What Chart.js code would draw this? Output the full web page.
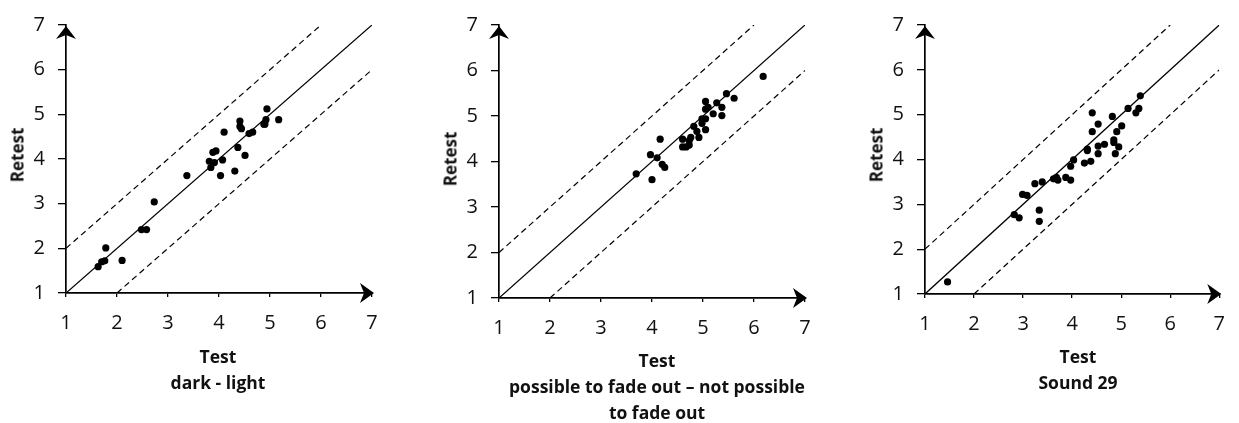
<!DOCTYPE html>
<html>
<head>
<meta charset="utf-8">
<script src="https://cdn.jsdelivr.net/npm/chart.js@4/dist/chart.umd.min.js"></script>
<style>
  body { margin: 0; background: #fff; width: 1239px; height: 423px; overflow: hidden; position: relative; font-family: 'Open Sans', sans-serif; }
  canvas { position: absolute; top: 0; }
  .ylab { position: absolute; font-weight: bold; font-size: 17px; color: #111; transform: translate(-50%, -50%) rotate(-90deg); white-space: nowrap; }
  .xlab { position: absolute; font-weight: bold; font-size: 17.5px; color: #111; text-align: center; line-height: 26px; width: 420px; transform: translateX(-50%); }
</style>
</head>
<body>
<canvas id="c1" width="413" height="423" style="left:0"></canvas>
<canvas id="c2" width="413" height="423" style="left:413px"></canvas>
<canvas id="c3" width="413" height="423" style="left:826px"></canvas>

<div class="ylab" style="left:17px; top:155px">Retest</div>
<div class="ylab" style="left:450px; top:159px">Retest</div>
<div class="ylab" style="left:876px; top:155px">Retest</div>

<div class="xlab" style="left:218px; top:343px">Test<br>dark - light</div>
<div class="xlab" style="left:657px; top:347px">Test<br>possible to fade out – not possible<br>to fade out</div>
<div class="xlab" style="left:1078px; top:343px">Test<br>Sound 29</div>

<script>
/* scale + reference lines */
const AXIS_MIN = 1, AXIS_MAX = 7;
const TICKS = [1, 2, 3, 4, 5, 6, 7];
const LINE_X = [1, 7];          // y = x
const UPPER_X = [1, 6];         // y = x + 1
const LOWER_X = [2, 7];         // y = x - 1

/* panel 1: dark - light */
const test1   = [1.63, 1.70, 1.76, 1.78, 2.10, 2.48, 2.58, 2.73, 3.37, 3.81, 3.84, 3.88, 3.91, 3.94, 4.03, 4.07, 4.10, 4.31, 4.37, 4.41, 4.41, 4.44, 4.51, 4.59, 4.66, 4.88, 4.90, 4.92, 4.94, 5.17];
const retest1 = [1.59, 1.70, 1.72, 2.01, 1.73, 2.42, 2.42, 3.04, 3.63, 3.95, 3.81, 4.15, 3.92, 4.18, 3.63, 3.98, 4.60, 3.73, 4.26, 4.85, 4.73, 4.68, 4.08, 4.57, 4.60, 4.78, 4.78, 4.88, 5.12, 4.88];

/* panel 2: possible to fade out – not possible to fade out */
const test2   = [3.69, 3.97, 4.00, 4.10, 4.16, 4.20, 4.25, 4.60, 4.60, 4.67, 4.73, 4.73, 4.76, 4.82, 4.88, 4.92, 4.98, 4.98, 5.05, 5.05, 5.05, 5.05, 5.10, 5.20, 5.27, 5.37, 5.37, 5.46, 5.61, 6.18];
const retest2 = [3.73, 4.15, 3.60, 4.08, 4.49, 3.94, 3.87, 4.49, 4.32, 4.32, 4.36, 4.46, 4.53, 4.77, 4.66, 4.53, 4.84, 4.94, 4.94, 4.70, 5.32, 5.15, 5.19, 5.05, 5.29, 5.19, 5.01, 5.49, 5.39, 5.87];

/* panel 3: Sound 29 */
const test3   = [1.46, 2.82, 2.92, 2.99, 3.08, 3.24, 3.33, 3.33, 3.39, 3.62, 3.68, 3.71, 3.87, 3.97, 3.97, 4.03, 4.25, 4.31, 4.31, 4.38, 4.41, 4.41, 4.53, 4.53, 4.53, 4.66, 4.82, 4.85, 4.85, 4.88, 4.91, 4.95, 5.01, 5.14, 5.30, 5.36, 5.39];
const retest3 = [1.27, 2.77, 2.70, 3.22, 3.20, 3.46, 2.87, 2.62, 3.50, 3.57, 3.60, 3.54, 3.60, 3.54, 3.85, 3.99, 3.92, 4.20, 4.23, 3.96, 4.62, 5.04, 4.79, 4.30, 4.13, 4.34, 4.96, 4.44, 4.38, 4.13, 4.62, 4.28, 4.75, 5.14, 5.04, 5.14, 5.42];

const TICK_FONT = { family: "'Open Sans', sans-serif", size: 20 };

const zip = (xs, ys) => xs.map((x, i) => ({ x: x, y: ys[i] }));
const shifted = (xs, d) => xs.map(x => ({ x: x, y: x + d }));

// arrowheads at the end of both axes
const arrowPlugin = {
  id: 'arrows',
  afterDraw(chart) {
    const ctx = chart.ctx;
    const xs = chart.scales.x, ys = chart.scales.y;
    const x0 = xs.getPixelForValue(AXIS_MIN), xEnd = xs.getPixelForValue(AXIS_MAX);
    const y0 = ys.getPixelForValue(AXIS_MIN), yEnd = ys.getPixelForValue(AXIS_MAX);
    ctx.save();
    ctx.fillStyle = '#000';
    // right arrow
    ctx.beginPath();
    ctx.moveTo(xEnd + 2, y0);
    ctx.lineTo(xEnd - 12, y0 - 10);
    ctx.lineTo(xEnd - 8, y0);
    ctx.lineTo(xEnd - 12, y0 + 10);
    ctx.closePath();
    ctx.fill();
    // up arrow
    ctx.beginPath();
    ctx.moveTo(x0, yEnd + 1);
    ctx.lineTo(x0 - 10, yEnd + 14);
    ctx.lineTo(x0, yEnd + 10);
    ctx.lineTo(x0 + 10, yEnd + 14);
    ctx.closePath();
    ctx.fill();
    ctx.restore();
  }
};

function makePanel(id, xs, ys, box) {
  new Chart(document.getElementById(id), {
    type: 'scatter',
    data: {
      datasets: [
        { data: zip(xs, ys), backgroundColor: '#000', borderWidth: 0, pointRadius: 3.6 },
        { data: shifted(LINE_X, 0), showLine: true, borderColor: '#000', borderWidth: 1.3, pointRadius: 0 },
        { data: shifted(UPPER_X, 1), showLine: true, borderColor: '#000', borderWidth: 1.2, borderDash: [6, 4], pointRadius: 0 },
        { data: shifted(LOWER_X, -1), showLine: true, borderColor: '#000', borderWidth: 1.2, borderDash: [6, 4], pointRadius: 0 }
      ]
    },
    options: {
      responsive: false,
      animation: false,
      layout: { padding: { top: 16, right: box.right, left: 0, bottom: 0 } },
      plugins: { legend: { display: false }, tooltip: { enabled: false } },
      scales: {
        x: {
          type: 'linear', min: AXIS_MIN, max: AXIS_MAX,
          afterFit: s => { s.height = box.xh; },
          afterBuildTicks: s => { s.ticks = TICKS.map(v => ({ value: v })); },
          grid: { drawOnChartArea: false, tickLength: 4, color: '#000', lineWidth: 1.3 },
          border: { color: '#000', width: 1.7 },
          ticks: { color: '#111', font: TICK_FONT, padding: 14, maxRotation: 0 }
        },
        y: {
          type: 'linear', min: AXIS_MIN, max: AXIS_MAX,
          afterFit: s => { s.width = box.yw; },
          afterBuildTicks: s => { s.ticks = TICKS.map(v => ({ value: v })); },
          grid: { drawOnChartArea: false, tickLength: 8, color: '#000', lineWidth: 1.3 },
          border: { color: '#000', width: 1.7 },
          ticks: { color: '#111', font: TICK_FONT, padding: 13 }
        }
      }
    },
    plugins: [arrowPlugin]
  });
}

makePanel('c1', test1, retest1, { yw: 66, right: 41, xh: 130 });
makePanel('c2', test2, retest2, { yw: 86, right: 21, xh: 125 });
makePanel('c3', test3, retest3, { yw: 99, right: 7, xh: 129 });
</script>
</body>
</html>
